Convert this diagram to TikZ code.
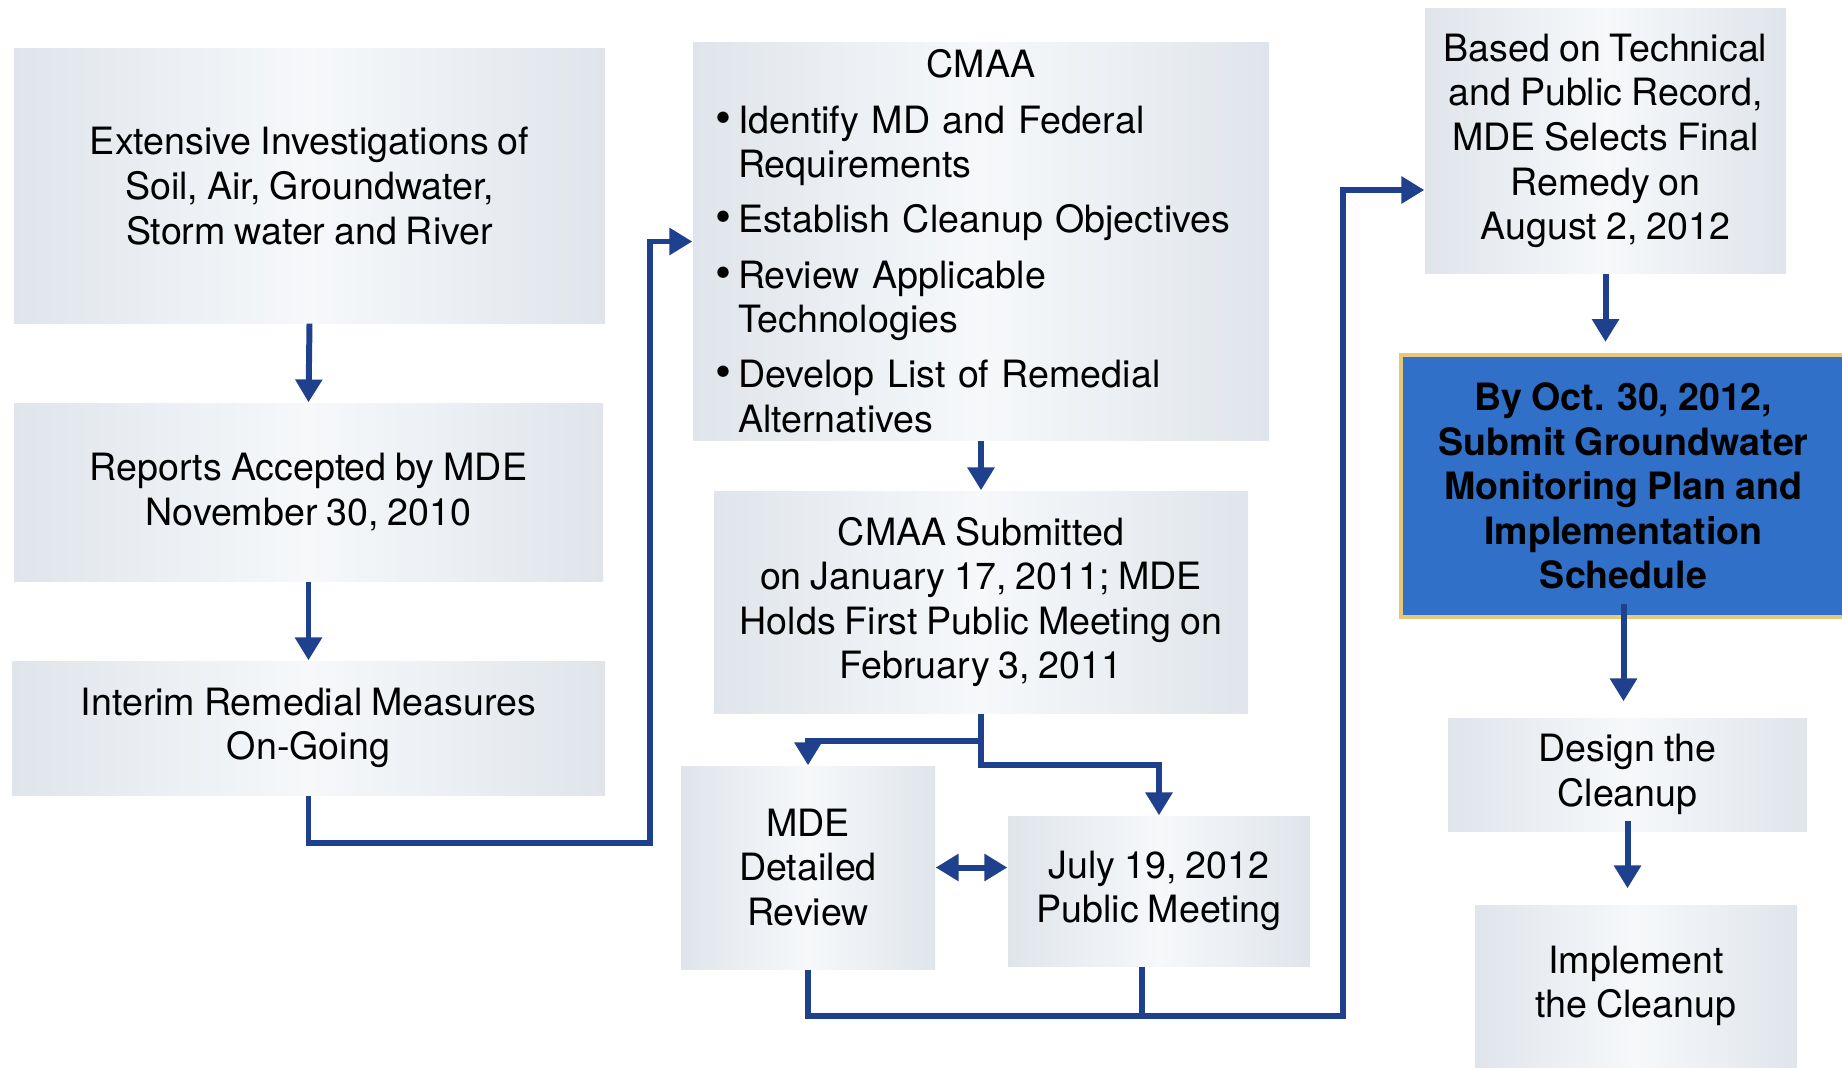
\documentclass[tikz,border=0pt]{standalone}
\usepackage{fontspec}
\setmainfont[WordSpace=0.85]{TeX Gyre Heros}
\usepackage{enumitem}
\usetikzlibrary{arrows.meta}

\definecolor{flowblue}{RGB}{31,64,140}
\definecolor{panelgrey}{RGB}{224,229,235}
\definecolor{panellight}{RGB}{246,248,250}
\definecolor{keyblue}{RGB}{48,112,200}
\definecolor{keygold}{RGB}{232,200,120}

\begin{document}
\begin{tikzpicture}[
  stagebox/.style={left color=panelgrey, right color=panelgrey, middle color=panellight,
    align=center, inner sep=2pt, font=\fontsize{10.7}{12.7}\selectfont},
  keybox/.style={fill=keyblue, draw=keygold, line width=1.2pt, align=center,
    font=\fontsize{10.7}{12.7}\selectfont\bfseries},
  link/.style={draw=flowblue, line width=1.7pt},
  flow/.style={link, -{Triangle[width=7.4pt,length=6.5pt]}},
  flowboth/.style={link, {Triangle[width=7.4pt,length=6.5pt]}-{Triangle[width=7.4pt,length=6.5pt]}}
]
  \useasboundingbox (0,0) rectangle (18.42,10.67);
  % Left column: investigations
  \node[stagebox, minimum width=5.91cm, minimum height=2.74cm] (inv) at (3.095,8.81)
    {Extensive Investigations of\\Soil, Air, Groundwater,\\Storm water and River};
  \node[stagebox, minimum width=5.89cm, minimum height=1.78cm] (rep) at (3.085,5.75)
    {Reports Accepted by MDE\\November 30, 2010};
  \node[stagebox, minimum width=5.93cm, minimum height=1.34cm] (irm) at (3.085,3.39)
    {Interim Remedial Measures\\On-Going};
  % Middle column: CMAA and review
  \node[stagebox, minimum width=5.76cm, minimum height=3.93cm, text width=5.3cm, align=left]
    (cmaa) at (9.81,8.255) {{\centering CMAA\par}\raggedright
    \begin{itemize}[nosep, topsep=3pt, itemsep=3pt, leftmargin=0.22cm, labelsep=0.07cm,
        label={\fontsize{13}{13}\selectfont\textbullet}]
      \item Identify MD and Federal\newline Requirements
      \item Establish Cleanup Objectives
      \item Review Applicable\newline Technologies
      \item Develop List of Remedial\newline Alternatives
    \end{itemize}};
  \node[stagebox, minimum width=5.34cm, minimum height=2.22cm] (sub) at (9.81,4.65)
    {CMAA Submitted\\on January 17, 2011; MDE\\Holds First Public Meeting on\\February 3, 2011};
  \node[stagebox, minimum width=2.54cm, minimum height=2.03cm] (mde) at (8.08,1.995)
    {MDE\\Detailed\\Review};
  \node[stagebox, minimum width=3.02cm, minimum height=1.50cm] (july) at (11.59,1.76)
    {July 19, 2012\\Public Meeting};
  % Right column: remedy and cleanup
  \node[stagebox, minimum width=3.61cm, minimum height=2.64cm] (based) at (16.055,9.26)
    {Based on Technical\\and Public Record,\\MDE Selects Final\\Remedy on\\August 2, 2012};
  \node[keybox, minimum width=4.45cm, minimum height=2.62cm] (keyplan) at (16.235,5.81)
    {By Oct. 30, 2012,\\Submit Groundwater\\Monitoring Plan and\\Implementation\\Schedule};
  \node[stagebox, minimum width=3.59cm, minimum height=1.13cm] (design) at (16.275,2.925)
    {Design the\\Cleanup};
  \node[stagebox, minimum width=3.22cm, minimum height=1.62cm] (impl) at (16.36,0.81)
    {Implement\\the Cleanup};
  % Turning points of the long connectors
  \coordinate (turnA) at (6.50,2.24);
  \coordinate (turnB) at (13.43,0.51);
  \coordinate (julyfoot) at ([xshift=-0.17cm]july.south);
  % Connectors
  \draw[flow] (inv.south) -- (rep.north);
  \draw[flow] (rep.south) -- (irm.north);
  \draw[flow] (irm.south) |- (turnA) |- (cmaa.west);
  \draw[flow] (cmaa.south) -- (sub.north);
  \draw[flow] (sub.south) -- ++(0,-0.27) -| (mde.north);
  \draw[flow] (sub.south) -- ++(0,-0.51) -| (july.north);
  \draw[flowboth] (mde.east) -- (mde.east -| july.west);
  \draw[flow] (mde.south) |- (turnB) |- ([yshift=-0.49cm]based.west);
  \draw[link] (julyfoot) -- (julyfoot |- turnB);
  \draw[flow, shorten >=0.11cm] (based.south) -- (based.south |- keyplan.north);
  \draw[flow, shorten <=-0.15cm, shorten >=0.16cm] (keyplan.south) -- (keyplan.south |- design.north);
  \draw[flow, shorten <=-0.11cm, shorten >=0.16cm] (design.south) -- (design.south |- impl.north);
\end{tikzpicture}
\end{document}
